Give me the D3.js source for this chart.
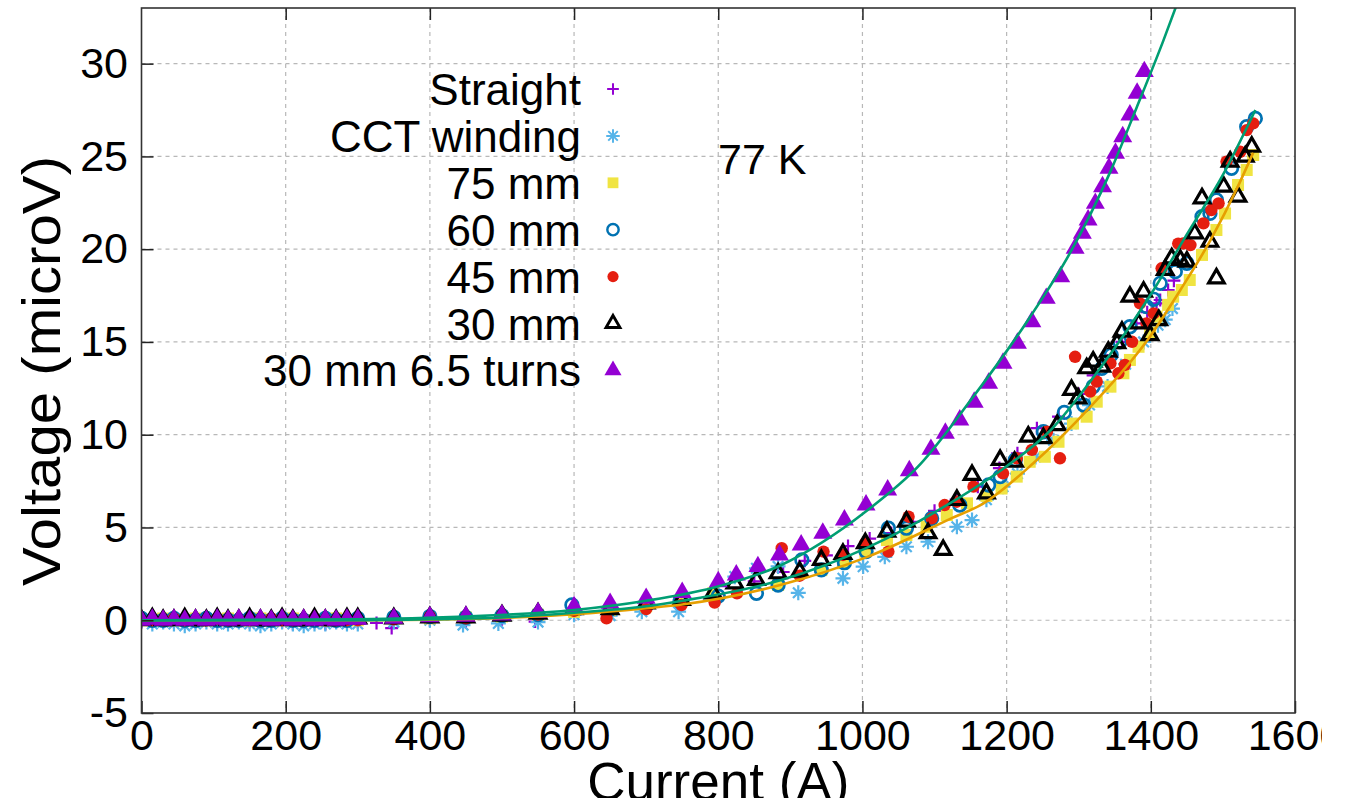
<!DOCTYPE html>
<html>
<head>
<meta charset="utf-8">
<script src="https://cdn.jsdelivr.net/npm/d3@7"></script>
<style>
  body { margin: 0; background: #fff; }
  text { font-family: "Liberation Sans", Arial, sans-serif; fill: #000; }
</style>
</head>
<body>
<svg width="1348" height="798"></svg>
<script>
// ---- data ----
var lowI = [0, 15, 30, 45, 60, 75, 90, 105, 120, 135, 150, 165, 180, 195, 210, 225, 240, 255, 270, 285, 300];

var straightLow = [-0.1, 0, -0.1, -0.1, 0, -0.1, 0, -0.1, -0.1, 0, -0.1, -0.1, 0, -0.1, -0.2, -0.1, -0.1, -0.2, -0.1, -0.1, -0.1];
var cctLow      = [0, -0.2, -0.1, -0.2, -0.3, -0.2, -0.1, -0.2, -0.2, -0.1, -0.2, -0.3, -0.2, -0.1, -0.2, -0.3, -0.2, -0.2, -0.1, -0.2, -0.2];
var mm75Low     = [0, 0, 0.1, 0, 0, 0.1, 0, 0, 0.1, 0, 0, 0.1, 0, 0, 0.1, 0, 0, 0, 0.1, 0, 0];
var mm60Low     = [0.1, 0, 0, 0.1, 0, 0, 0.1, 0, 0, 0, 0.1, 0, 0, 0.1, 0, 0, 0, 0.1, 0, 0, 0.1];
var mm45Low     = [0, 0, 0, 0.1, 0, 0, 0, 0.1, 0, 0, 0, 0, 0.1, 0, 0, 0, 0.1, 0, 0, 0, 0];
var mm30Low     = [0, 0.1, 0, 0, 0.1, 0, 0, 0.1, 0, 0, 0.1, 0, 0, 0.1, 0, 0, 0.1, 0, 0, 0.1, 0.1];
var turnsLow    = [0, 0.05, 0, 0.05, 0, 0.05, 0, 0.05, 0, 0.05, 0, 0.05, 0, 0.05, 0, 0.05, 0, 0.05, 0, 0.05, 0.05];

var straightHigh = [[326,-0.15],[347,-0.42],[400,0],[450,-0.1],[500,0.05],[546,-0.07],[600,0.3],[650,0.4],[700,0.6],[750,0.9],
  [800,1.4],[850,2.1],[890,2.6],[920,3.2],[950,3.5],[980,4.0],[1010,4.4],[1040,4.7],[1070,5.3],[1100,5.9],[1130,6.5],
  [1160,7.2],[1190,8.2],[1215,9.0],[1242,10.35],[1272,10.97],[1300,12.2],[1320,13.2],[1340,14.0],[1360,15.0],[1380,16.0],
  [1395,16.6],[1408,17.08],[1413,17.26],[1424,17.8],[1432,18.3]];

var cctHigh = [[350,-0.1],[400,0],[446,-0.26],[495,-0.17],[550,-0.1],[600,0.3],[650,0.25],[694,0.46],[745,0.46],[795,1.2],
  [823,2.35],[853,2.8],[883,2.9],[911,1.48],[973,2.26],[1001,2.89],[1031,3.42],[1061,3.96],[1091,4.23],[1131,5.04],[1152,5.4],
  [1172,6.5],[1195,7.2],[1215,7.9],[1240,8.8],[1265,9.7],[1290,10.6],[1315,11.6],[1340,12.6],[1365,13.8],[1390,15.0],
  [1410,15.9],[1420,16.2],[1430,16.8]];

var mm75High = [[350,0.1],[400,0.1],[450,0.15],[500,0.2],[550,0.3],[600,0.45],[650,0.55],[700,0.75],[749,1.05],[793,1.45],
  [883,1.9],[943,2.7],[973,3.07],[1004,3.69],[1034,4.32],[1061,4.59],[1089,5.04],[1117,5.67],[1145,6.3],[1172,6.7],[1193,7.1],
  [1214,7.74],[1232,8.54],[1253,8.81],[1272,9.62],[1292,10.6],[1311,10.97],[1325,11.78],[1344,12.59],[1362,13.31],[1371,14.03],
  [1383,14.74],[1399,15.5],[1408,16.36],[1424,17.0],[1431,17.44],[1443,17.8],[1454,18.34],[1471,19.69],[1491,21.03],[1503,21.93],
  [1521,23.46],[1533,24.27],[1542,25.08]];

var mm60High = [[350,0.15],[400,0.2],[450,0.15],[500,0.25],[550,0.3],[597,0.82],[650,0.6],[700,0.8],[747,1.0],[800,1.3],
  [853,1.45],[883,1.9],[916,3.25],[943,2.71],[975,3.1],[1005,3.7],[1036,4.96],[1061,4.96],[1096,5.49],[1135,6.21],[1175,7.29],
  [1191,7.74],[1212,8.64],[1251,10.16],[1280,11.2],[1307,11.6],[1320,12.6],[1332,13.58],[1345,14.3],[1357,15.0],[1371,15.82],
  [1394,16.9],[1404,17.3],[1413,18.16],[1434,18.79],[1450,19.24],[1471,21.75],[1482,21.93],[1491,22.65],[1512,24.36],
  [1533,26.6],[1545,27.05]];

var mm45High = [[350,0.05],[400,0.2],[450,0.1],[500,0.25],[550,0.3],[600,0.5],[645,0.1],[700,0.6],[749,0.82],[795,0.95],
  [826,1.45],[888,3.88],[913,2.4],[946,3.7],[973,3.52],[1004,4.15],[1036,3.7],[1064,5.58],[1096,5.49],[1114,6.21],[1131,6.39],
  [1154,7.2],[1195,7.92],[1214,8.73],[1235,9.18],[1256,10.16],[1274,8.73],[1295,14.2],[1316,12.32],[1325,12.86],[1344,13.85],
  [1355,13.31],[1364,13.76],[1374,15.01],[1385,17.08],[1394,16.0],[1404,16.54],[1415,18.97],[1438,20.3],[1445,20.31],
  [1455,20.22],[1473,21.39],[1484,22.11],[1494,22.47],[1505,24.72],[1524,25.25],[1533,26.42],[1542,26.78]];

var mm30High = [[350,0.1],[400,0.15],[450,0.15],[500,0.25],[550,0.35],[600,0.6],[650,0.6],[700,0.9],[749,1.1],[793,1.45],
  [823,1.99],[853,2.17],[883,2.53],[913,2.62],[943,3.25],[973,3.57],[1004,4.15],[1034,4.77],[1061,5.31],[1091,4.69],[1112,3.79],
  [1131,6.48],[1152,7.83],[1172,6.84],[1191,8.64],[1211,8.54],[1230,9.9],[1251,9.81],[1270,10.52],[1290,12.41],[1299,11.96],
  [1311,13.58],[1320,13.94],[1332,13.67],[1341,14.47],[1353,14.93],[1360,15.55],[1371,17.44],[1383,16.0],[1390,17.71],
  [1399,15.37],[1411,16.18],[1420,18.88],[1429,19.51],[1441,19.42],[1450,19.33],[1461,20.85],[1471,22.74],[1482,20.4],
  [1491,18.43],[1501,23.37],[1510,24.72],[1521,22.83],[1531,24.99],[1540,25.52]];

var turnsHigh = [[350,0.1],[400,0.19],[450,0.22],[500,0.28],[550,0.41],[600,0.73],[650,0.91],[700,1.18],[750,1.5],[800,2.08],
  [825,2.44],[855,2.89],[885,3.52],[915,4.06],[945,4.69],[975,5.4],[1005,6.21],[1035,7.02],[1065,8.06],[1095,9.21],[1115,10.08],
  [1135,10.79],[1155,11.75],[1175,12.77],[1195,13.85],[1215,14.93],[1235,16.09],[1255,17.35],[1275,18.52],[1295,20.05],
  [1305,20.86],[1313,21.57],[1323,22.47],[1333,23.37],[1342,24.36],[1351,25.17],[1361,26.06],[1371,27.23],[1381,28.4],[1391,29.57]];

// fitted curves
var fitTurns = [[0,0],[300,0.05],[450,0.2],[600,0.55],[700,1.05],[793,1.75],[886,2.95],[1006,5.9],[1080,8.4],[1149,11.8],
  [1230,16.2],[1288,19.8],[1343,24.1],[1380,27.6],[1417,31.2],[1440,33.6]];
var fitUpper = [[0,0],[300,0],[400,0.05],[500,0.15],[600,0.4],[700,0.75],[750,1.05],[886,2.15],[1006,3.9],[1117,6.2],
  [1200,8.3],[1260,10.2],[1330,13.6],[1399,17.5],[1450,20.8],[1500,24.0],[1545,27.5]];
var fitLower = [[0,0],[300,0],[400,0.03],[500,0.12],[600,0.32],[700,0.65],[750,0.85],[886,1.9],[1006,3.4],[1121,5.45],
  [1168,6.3],[1237,8.46],[1316,11.5],[1399,15.3],[1441,17.8],[1483,20.5],[1521,23.4],[1542,25.2]];

var seriesNames = ["Straight", "CCT winding", "75 mm", "60 mm", "45 mm", "30 mm", "30 mm 6.5 turns"];
var xTicks = [0, 200, 400, 600, 800, 1000, 1200, 1400, 1600];
var yTicks = [-5, 0, 5, 10, 15, 20, 25, 30];

// ---- build ----
function join(low, high) {
  return low.map(function(v, i) { return [lowI[i], v]; }).concat(high);
}

var series = [
  { name: seriesNames[0], data: join(straightLow, straightHigh), shape: "plus",  color: "#9400D3" },
  { name: seriesNames[1], data: join(cctLow, cctHigh),           shape: "star",  color: "#56B4E9" },
  { name: seriesNames[2], data: join(mm75Low, mm75High),         shape: "square", color: "#F0E442" },
  { name: seriesNames[3], data: join(mm60Low, mm60High),         shape: "ocircle", color: "#0072B2" },
  { name: seriesNames[4], data: join(mm45Low, mm45High),         shape: "circle", color: "#E51E10" },
  { name: seriesNames[5], data: join(mm30Low, mm30High),         shape: "otri",  color: "#000000" },
  { name: seriesNames[6], data: join(turnsLow, turnsHigh),       shape: "tri",   color: "#9400D3" }
];

var svg = d3.select("svg");
var pLeft = 141.5, pRight = 1295, pTop = 8, pBottom = 713;

var x = d3.scaleLinear().domain([0, 1600]).range([pLeft, pRight]);
var y = d3.scaleLinear().domain([-5, 33]).range([pBottom, pTop]);

svg.append("defs").append("clipPath")
    .attr("id", "clip")
  .append("rect")
    .attr("x", pLeft).attr("y", pTop)
    .attr("width", pRight - pLeft).attr("height", pBottom - pTop);

// grid
var grid = svg.append("g").attr("class", "grid")
    .attr("stroke", "#b8b8b8").attr("stroke-width", 1.2).attr("stroke-dasharray", "4,4");
grid.selectAll(".gx").data(xTicks.slice(1, -1)).enter().append("line")
    .attr("x1", function(d) { return x(d); }).attr("x2", function(d) { return x(d); })
    .attr("y1", pTop).attr("y2", pBottom);
grid.selectAll(".gy").data(yTicks.slice(1)).enter().append("line")
    .attr("y1", function(d) { return y(d); }).attr("y2", function(d) { return y(d); })
    .attr("x1", pLeft).attr("x2", pRight);

// markers
function symPath(shape) {
  if (shape == "plus") { var s = 6.5; return "M" + (-s) + ",0H" + s + "M0," + (-s) + "V" + s; }
  if (shape == "star") {
    var a = 7.5, k = 5.3;
    return "M" + (-a) + ",0H" + a + "M0," + (-a) + "V" + a +
           "M" + (-k) + "," + (-k) + "L" + k + "," + k + "M" + (-k) + "," + k + "L" + k + "," + (-k);
  }
  if (shape == "square") return d3.symbol(d3.symbolSquare, 12 * 12)();
  if (shape == "ocircle") return d3.symbol(d3.symbolCircle, Math.PI * 6.3 * 6.3)();
  if (shape == "circle") return d3.symbol(d3.symbolCircle, Math.PI * 6.2 * 6.2)();
  if (shape == "otri") return d3.symbol(d3.symbolTriangle, 0.433 * 15.5 * 15.5)();
  return d3.symbol(d3.symbolTriangle, 0.433 * 19 * 19)();
}

function styleMark(sel, s) {
  if (s.shape == "plus" || s.shape == "star") {
    sel.attr("fill", "none").attr("stroke", s.color).attr("stroke-width", 2.2);
  } else if (s.shape == "ocircle") {
    sel.attr("fill", "none").attr("stroke", s.color).attr("stroke-width", 2.7);
  } else if (s.shape == "otri") {
    sel.attr("fill", "none").attr("stroke", s.color).attr("stroke-width", 3.2).attr("stroke-linejoin", "miter");
  } else {
    sel.attr("fill", s.color).attr("stroke", "none");
  }
}

var plot = svg.append("g").attr("clip-path", "url(#clip)");

series.forEach(function(s) {
  var g = plot.append("g");
  var m = g.selectAll("path").data(s.data).enter().append("path")
      .attr("d", symPath(s.shape))
      .attr("transform", function(d) { return "translate(" + x(d[0]) + "," + y(d[1]) + ")"; });
  styleMark(m, s);
});

// fits
var line = d3.line()
    .curve(d3.curveMonotoneX)
    .x(function(d) { return x(d[0]); })
    .y(function(d) { return y(d[1]); });

[[fitLower, "#E69F00"], [fitUpper, "#009E73"], [fitTurns, "#009E73"]].forEach(function(f) {
  plot.append("path")
      .datum(f[0])
      .attr("fill", "none")
      .attr("stroke", f[1])
      .attr("stroke-width", 2.6)
      .attr("d", line);
});

// axes (plain hyphen minus, like the original)
var fmt = function(d) { return String(d); };
var xAxis = d3.axisBottom(x).tickValues(xTicks).tickFormat(fmt)
    .tickSizeInner(-12).tickSizeOuter(0).tickPadding(6.5);
var yAxis = d3.axisLeft(y).tickValues(yTicks).tickFormat(fmt)
    .tickSizeInner(-12).tickSizeOuter(0).tickPadding(13.5);
var xTop  = d3.axisTop(x).tickValues(xTicks.slice(1, -1)).tickSizeInner(-12).tickSizeOuter(0).tickFormat("");

function styleAxis(g) {
  g.select(".domain").remove();
  g.selectAll("line").attr("stroke", "#222").attr("stroke-width", 1.5);
  g.selectAll("text").style("font-size", "43px").style("font-family", "'Liberation Sans', Arial, sans-serif").attr("fill", "#000");
}

svg.append("g").attr("transform", "translate(0," + pBottom + ")").call(xAxis).call(styleAxis);
svg.append("g").attr("transform", "translate(" + pLeft + ",0)").call(yAxis).call(styleAxis);
svg.append("g").attr("transform", "translate(0," + pTop + ")").call(xTop).call(styleAxis);

svg.append("rect")
    .attr("x", pLeft).attr("y", pTop)
    .attr("width", pRight - pLeft).attr("height", pBottom - pTop)
    .attr("fill", "none").attr("stroke", "#333").attr("stroke-width", 1.6);

// axis labels
svg.append("text")
    .attr("transform", "translate(60,371) rotate(-90)")
    .attr("text-anchor", "middle")
    .attr("textLength", 430)
    .attr("lengthAdjust", "spacingAndGlyphs")
    .style("font-size", "53px")
    .text("Voltage (microV)");

svg.append("text")
    .attr("x", (pLeft + pRight) / 2)
    .attr("y", 800)
    .attr("text-anchor", "middle")
    .style("font-size", "53px")
    .text("Current (A)");

svg.append("text")
    .attr("x", 718)
    .attr("y", 174)
    .style("font-size", "43px")
    .text("77 K");

// legend
var legend = svg.append("g").attr("class", "legend");
series.forEach(function(s, i) {
  var by = 105 + i * 46.9;
  legend.append("text")
      .attr("x", 581).attr("y", by)
      .attr("text-anchor", "end")
      .style("font-size", "44px")
      .text(s.name);
  var m = legend.append("path")
      .attr("d", symPath(s.shape))
      .attr("transform", "translate(613," + (by - 16) + ") scale(0.9)");
  styleMark(m, s);
});

// the source image is cut off on the right
svg.append("rect").attr("x", 1322).attr("y", 0).attr("width", 26).attr("height", 798).attr("fill", "#fff");
</script>
</body>
</html>
